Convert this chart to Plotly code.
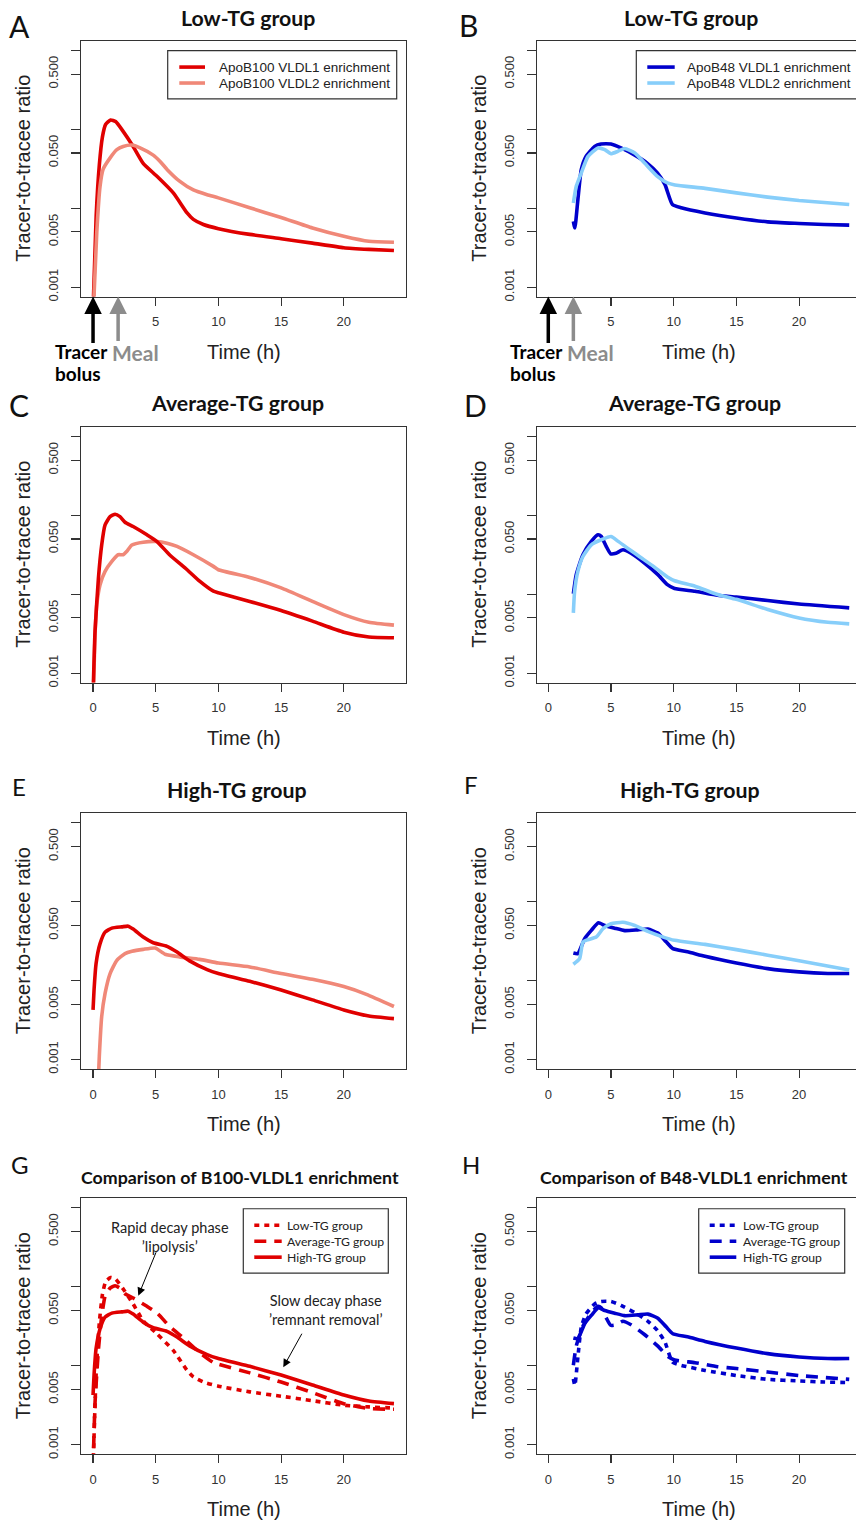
import plotly.graph_objects as go

W, H = 856, 1527

# ---------------- data (tracer-to-tracee ratio vs time, h) ----------------
# Panel A: Low-TG, ApoB100
a_t1 = [0, 0.25, 0.5, 0.75, 1.0, 1.4, 1.8, 2.4, 3.2, 4.0, 5.1, 6.4, 7.5, 8.0, 8.8, 10, 12.5, 15, 17.5, 20, 22, 24]
a_v1 = [0.0005, 0.008, 0.035, 0.08, 0.115, 0.131, 0.125, 0.094, 0.0605, 0.037, 0.0253, 0.0156, 0.0087, 0.0072, 0.0062,
        0.0055, 0.00465, 0.0041, 0.0036, 0.00315, 0.003, 0.0029]
a_t2 = [0, 0.3, 0.56, 0.8, 1.35, 1.9, 2.4, 3.1, 3.75, 4.8, 5.35, 5.9, 6.9, 8.0, 9.1, 10, 12.5, 15, 17.5, 20, 22, 24]
a_v2 = [0.0004, 0.005, 0.019, 0.031, 0.043, 0.055, 0.0605, 0.063, 0.058, 0.047, 0.039, 0.031, 0.022, 0.017, 0.0148,
        0.0135, 0.0101, 0.0076, 0.0056, 0.0044, 0.0038, 0.0037]
# Panel B: Low-TG, ApoB48
b_t1 = [2.0, 2.12, 2.36, 2.63, 3.0, 3.7, 4.2, 5.0, 5.8, 6.9, 7.9, 8.7, 9.3, 9.9, 10.6, 12.5, 15, 17.5, 20, 22, 24]
b_v1 = [0.0068, 0.0056, 0.0128, 0.0307, 0.045, 0.0605, 0.065, 0.065, 0.058, 0.047, 0.037, 0.028, 0.020, 0.0111, 0.0101,
        0.0087, 0.0075, 0.0067, 0.0064, 0.0062, 0.0061]
b_t2 = [2.0, 2.23, 2.63, 3.16, 3.96, 4.5, 5.0, 5.55, 6.1, 6.9, 7.7, 8.7, 9.5, 10.1, 12.5, 15, 17.5, 20, 24]
b_v2 = [0.0116, 0.0189, 0.0279, 0.045, 0.058, 0.055, 0.049, 0.0525, 0.057, 0.050, 0.037, 0.0253, 0.0209, 0.0197,
        0.0178, 0.0156, 0.0138, 0.0125, 0.0111]
# Panel C: Average-TG, ApoB100
c_t1 = [0, 0.16, 0.43, 0.69, 0.96, 1.36, 1.76, 2.15, 2.55, 3.2, 4.3, 5.1, 6.1, 7.5, 8.5, 9.6, 10, 12.5, 15, 17.5, 20, 22, 24]
c_v1 = [0.0005, 0.0034, 0.016, 0.042, 0.0755, 0.096, 0.103, 0.096, 0.0816, 0.072, 0.0565, 0.0465, 0.0316, 0.0204,
        0.0146, 0.0109, 0.0104, 0.0081, 0.0062, 0.00455, 0.0033, 0.00286, 0.0028]
c_t2 = [0, 0.16, 0.3, 0.56, 0.96, 1.5, 2.0, 2.4, 2.7, 3.1, 4.0, 5.1, 5.9, 6.7, 8.0, 9.6, 10, 12.5, 15, 17.5, 20, 22, 24]
c_v2 = [0.0004, 0.0031, 0.0074, 0.0132, 0.0195, 0.026, 0.0316, 0.0316, 0.035, 0.042, 0.0456, 0.0465, 0.0443, 0.0403,
        0.0316, 0.0225, 0.0204, 0.0163, 0.012, 0.0081, 0.0055, 0.0044, 0.00405]
# Panel D: Average-TG, ApoB48
d_t1 = [2.0, 2.23, 2.76, 3.43, 3.96, 4.22, 4.62, 4.97, 5.4, 5.95, 6.6, 7.67, 8.74, 9.5, 10.07, 11.7, 13.5, 15, 17.5, 20, 24]
d_v1 = [0.0101, 0.0177, 0.0316, 0.0466, 0.0565, 0.054, 0.0403, 0.0325, 0.033, 0.0366, 0.033, 0.0248, 0.0177, 0.0132,
        0.0118, 0.0109, 0.0097, 0.0092, 0.0083, 0.0075, 0.0067]
d_t2 = [2.0, 2.1, 2.36, 2.76, 3.43, 4.22, 5.0, 5.55, 6.35, 7.4, 8.47, 9.5, 10.07, 11.7, 13.5, 15, 17.5, 20, 22.3, 24]
d_v2 = [0.0058, 0.0109, 0.0195, 0.030, 0.0423, 0.0489, 0.0538, 0.047, 0.038, 0.029, 0.022, 0.0165, 0.0148, 0.0126,
        0.0099, 0.0086, 0.0064, 0.0050, 0.0044, 0.0042]
# Panel E: High-TG, ApoB100
e_t1 = [0, 0.08, 0.24, 0.56, 0.96, 1.5, 2.3, 2.8, 3.2, 4.0, 4.8, 5.9, 6.7, 7.7, 9.1, 10, 12.5, 15, 17.5, 20, 22, 24]
e_v1 = [0.00425, 0.0076, 0.0164, 0.0294, 0.0412, 0.0463, 0.048, 0.049, 0.045, 0.0356, 0.0302, 0.0272, 0.023, 0.0178,
        0.0138, 0.0123, 0.0098, 0.0076, 0.0057, 0.00425, 0.00356, 0.0033]
e_t2 = [0.45, 0.5, 0.69, 0.96, 1.36, 1.9, 2.55, 3.1, 4.0, 4.95, 5.75, 6.9, 8.5, 10, 12.5, 15, 17.5, 20, 21.8, 24]
e_v2 = [0.0007, 0.0011, 0.0035, 0.0069, 0.0123, 0.0181, 0.022, 0.0235, 0.0249, 0.0259, 0.0216, 0.020, 0.0186, 0.0167,
        0.0149, 0.0123, 0.0104, 0.0084, 0.0067, 0.0047]
# Panel F: High-TG, ApoB48
f_t1 = [2.0, 2.36, 2.9, 3.43, 4.0, 4.5, 5.3, 6.1, 7.14, 7.94, 8.74, 9.4, 9.93, 11.1, 12.5, 15, 17.5, 20, 22.3, 24]
f_v1 = [0.0224, 0.022, 0.034, 0.0433, 0.054, 0.050, 0.0462, 0.043, 0.044, 0.045, 0.040, 0.031, 0.0254, 0.0232, 0.0203,
        0.0167, 0.0142, 0.0129, 0.0123, 0.0123]
f_t2 = [2.0, 2.5, 2.76, 3.16, 3.82, 4.36, 5.0, 5.95, 6.9, 7.94, 9.0, 10.07, 12.5, 15, 17.5, 20, 24]
f_v2 = [0.0161, 0.019, 0.0308, 0.033, 0.0356, 0.0454, 0.0525, 0.055, 0.050, 0.042, 0.0364, 0.0324, 0.0288, 0.0247,
        0.021, 0.0178, 0.0136]

y_tickvals = [0.001, 0.005, 0.01, 0.05, 0.1, 0.5, 1]
y_ticktext = ["0.001", "0.005", "", "0.050", "", "0.500", ""]
x_ticks_top = [5, 10, 15, 20]
x_ticks = [0, 5, 10, 15, 20]

titles = ["Low-TG group", "Low-TG group", "Average-TG group", "Average-TG group",
          "High-TG group", "High-TG group",
          "Comparison of B100-VLDL1 enrichment", "Comparison of B48-VLDL1 enrichment"]
letters = ["A", "B", "C", "D", "E", "F", "G", "H"]
legend_ab100 = ["ApoB100 VLDL1 enrichment", "ApoB100 VLDL2 enrichment"]
legend_ab48 = ["ApoB48 VLDL1 enrichment", "ApoB48 VLDL2 enrichment"]
legend_groups = ["Low-TG group", "Average-TG group", "High-TG group"]

RED, SALMON = "#e00000", "#f08878"
BLUE, LBLUE = "#0000cc", "#87cefa"
LW = 3.6
DOT, DASH = "5px,5px", "12px,8px"
ARIAL = "Liberation Sans, Arial, sans-serif"
CAL = "Lato, Carlito, Calibri, sans-serif"

# ---------------- layout geometry (pixels) ----------------
row_tops = [41, 428.3, 816, 1202.3]
box_h = 256.5
left_x = (81, 406)
right_x = (537, 856)


def px(x):
    return x / W


def py(y):
    return 1 - y / H


fig = go.Figure()


def add(panel, t, v, color, dash="solid"):
    ax = "" if panel == 1 else str(panel)
    fig.add_trace(go.Scatter(
        x=t, y=v, mode="lines", xaxis="x" + ax, yaxis="y" + ax,
        line=dict(color=color, width=LW, dash=dash, shape="spline", smoothing=0.5),
        showlegend=False, hoverinfo="skip"))


add(1, a_t1, a_v1, RED)
add(1, a_t2, a_v2, SALMON)
add(2, b_t1, b_v1, BLUE)
add(2, b_t2, b_v2, LBLUE)
add(3, c_t2, c_v2, SALMON)
add(3, c_t1, c_v1, RED)
add(4, d_t1, d_v1, BLUE)
add(4, d_t2, d_v2, LBLUE)
add(5, e_t2, e_v2, SALMON)
add(5, e_t1, e_v1, RED)
add(6, f_t1, f_v1, BLUE)
add(6, f_t2, f_v2, LBLUE)
add(7, a_t1, a_v1, RED, DOT)
add(7, c_t1, c_v1, RED, DASH)
add(7, e_t1, e_v1, RED, "solid")
add(8, b_t1, b_v1, BLUE, DOT)
add(8, d_t1, d_v1, BLUE, DASH)
add(8, f_t1, f_v1, BLUE, "solid")

layout = dict(width=W, height=H, margin=dict(l=0, r=0, t=0, b=0), autosize=False,
              paper_bgcolor="white", plot_bgcolor="white", showlegend=False)

annotations = []
shapes = []
for i in range(8):
    p = i + 1
    row = i // 2
    right = (i % 2 == 1)
    x0, x1 = right_x if right else left_x
    top = row_tops[row]
    bot = top + box_h
    key = "" if p == 1 else str(p)
    xr = [-0.9, 24.54] if right else [-0.96, 24.96]
    layout["xaxis" + key] = dict(
        domain=[px(x0), px(x1)], range=xr, anchor="y" + key,
        tickvals=x_ticks_top if row == 0 else x_ticks,
        ticks="outside", ticklen=8, tickwidth=1.1, tickcolor="#333",
        showline=True, linecolor="#333", linewidth=1.2, mirror=True,
        showgrid=False, zeroline=False, ticklabelstandoff=5,
        tickfont=dict(family=ARIAL, size=13, color="#333"))
    layout["yaxis" + key] = dict(
        domain=[py(bot), py(top)], type="log", range=[-3.12, 0.12], anchor="x" + key,
        tickvals=y_tickvals, ticktext=y_ticktext, tickangle=-90,
        ticks="outside", ticklen=9, tickwidth=1.1, tickcolor="#333",
        showline=True, linecolor="#333", linewidth=1.2, mirror=not right,
        showgrid=False, zeroline=False, ticklabelstandoff=8,
        tickfont=dict(family=ARIAL, size=13, color="#333"))
    cx = (x0 + (861.5 if right else x1)) / 2
    annotations.append(dict(text="Tracer-to-tracee ratio", textangle=-90, xref="paper", yref="paper",
                            x=px(x0 - 58), y=py((top + bot) / 2), showarrow=False,
                            xanchor="center", yanchor="middle",
                            font=dict(family=ARIAL, size=20, color="#222")))
    annotations.append(dict(text="Time (h)", xref="paper", yref="paper",
                            x=px(cx), y=py(bot + 55.5), showarrow=False,
                            xanchor="center", yanchor="middle",
                            font=dict(family=ARIAL, size=20, color="#222")))

title_pos = [(247.5, 18), (690.5, 18), (237.5, 404), (694, 404),
             (237, 793), (690, 793), (240, 1181), (693.5, 1181)]
for k, (txt, (x, y)) in enumerate(zip(titles, title_pos)):
    annotations.append(dict(text="<b>%s</b>" % txt, xref="paper", yref="paper", x=px(x), y=py(y),
                            showarrow=False, xanchor="center", yanchor="middle",
                            font=dict(family=CAL, size=21.3 if k < 6 else 17.8, color="#111")))

letter_pos = [(19.5, 26, 30), (468, 25.5, 30), (19, 406, 30), (475.5, 406, 30),
              (19, 788.7, 24), (471.3, 787.5, 24), (20, 1168.3, 24), (471, 1168.5, 24)]
for txt, (x, y, s) in zip(letters, letter_pos):
    annotations.append(dict(text=txt, xref="paper", yref="paper", x=px(x), y=py(y),
                            showarrow=False, xanchor="center", yanchor="middle",
                            font=dict(family=CAL, size=s, color="#111")))

# Tracer bolus / Meal arrows and labels in panels A and B
for xr_, tx, mx in (("x", 53, 110), ("x2", 508, 565.3)):
    yr_ = ("y" if xr_ == "x" else "y2") + " domain"
    annotations.append(dict(x=0, y=0, xref=xr_, yref=yr_, ax=0, ay=48, text="", showarrow=True,
                            arrowhead=2, arrowsize=1, arrowwidth=3.5, arrowcolor="#000"))
    annotations.append(dict(x=2, y=0, xref=xr_, yref=yr_, ax=0, ay=46, text="", showarrow=True,
                            arrowhead=2, arrowsize=1, arrowwidth=3.5, arrowcolor="#8c8c8c"))
    annotations.append(dict(text="<b>Tracer</b>", xref="paper", yref="paper", x=px(tx), y=py(353),
                            showarrow=False, xanchor="left", yanchor="middle",
                            font=dict(family=CAL, size=19, color="#000")))
    annotations.append(dict(text="<b>bolus</b>", xref="paper", yref="paper", x=px(tx), y=py(375),
                            showarrow=False, xanchor="left", yanchor="middle",
                            font=dict(family=CAL, size=19, color="#000")))
    annotations.append(dict(text="<b>Meal</b>", xref="paper", yref="paper", x=px(mx), y=py(354),
                            showarrow=False, xanchor="left", yanchor="middle",
                            font=dict(family=CAL, size=21, color="#8c8c8c")))

# Panel G phase annotations
annotations.append(dict(text="Rapid decay phase<br>’lipolysis’", xref="paper", yref="paper",
                        x=px(170), y=py(1241), showarrow=False, xanchor="center", yanchor="middle",
                        font=dict(family=CAL, size=14.5, color="#222")))
annotations.append(dict(text="Slow decay phase<br>’remnant removal’", xref="paper", yref="paper",
                        x=px(326), y=py(1314), showarrow=False, xanchor="center", yanchor="middle",
                        font=dict(family=CAL, size=14.5, color="#222")))
annotations.append(dict(text="", xref="paper", yref="paper", x=px(138.3), y=py(1300),
                        ax=18.4, ay=-45, showarrow=True, arrowhead=2, arrowsize=1.6,
                        arrowwidth=1, arrowcolor="#000"))
annotations.append(dict(text="", xref="paper", yref="paper", x=px(283.3), y=py(1371.7),
                        ax=19.4, ay=-35, showarrow=True, arrowhead=2, arrowsize=1.6,
                        arrowwidth=1, arrowcolor="#000"))


# ---------------- legends (box, key lines, labels) ----------------
def legend(box, key_x, text_x, rows, labels, colors, dashes, font):
    bx0, by0, bx1, by1 = box
    shapes.append(dict(type="rect", xref="paper", yref="paper", x0=px(bx0), x1=px(bx1),
                       y0=py(by1), y1=py(by0), line=dict(color="#333", width=1.2),
                       fillcolor="white", layer="above"))
    for ry, lab, col, dsh in zip(rows, labels, colors, dashes):
        shapes.append(dict(type="line", xref="paper", yref="paper", x0=px(key_x[0]), x1=px(key_x[1]),
                           y0=py(ry), y1=py(ry), line=dict(color=col, width=LW, dash=dsh), layer="above"))
        annotations.append(dict(text=lab, xref="paper", yref="paper", x=px(text_x), y=py(ry),
                                showarrow=False, xanchor="left", yanchor="middle", font=font))


legend((167.7, 50.7, 396.7, 99.3), (179.3, 205), 216.5, [67.3, 83.3], legend_ab100,
       [RED, SALMON], ["solid", "solid"], dict(family=ARIAL, size=13.5, color="#222"))
legend((636.3, 50.7, 880, 99.3), (647.3, 674.7), 685, [67.3, 83.3], legend_ab48,
       [BLUE, LBLUE], ["solid", "solid"], dict(family=ARIAL, size=13.5, color="#222"))
legend((243.3, 1212.7, 388.3, 1277.3), (254.3, 281.7), 284.5, [1229.3, 1245.3, 1261.3], legend_groups,
       [RED] * 3, [DOT, DASH, "solid"], dict(family=CAL, size=12.2, color="#222"))
legend((698.7, 1212.7, 844.7, 1277.3), (709.7, 736.3), 740.8, [1229.3, 1245.3, 1261.3], legend_groups,
       [BLUE] * 3, [DOT, DASH, "solid"], dict(family=CAL, size=12.2, color="#222"))

layout["annotations"] = annotations
layout["shapes"] = shapes

fig.update_layout(**layout)
fig.write_html("out.html", config={"displayModeBar": False, "staticPlot": True},
               post_script="document.body.style.margin='0';")
